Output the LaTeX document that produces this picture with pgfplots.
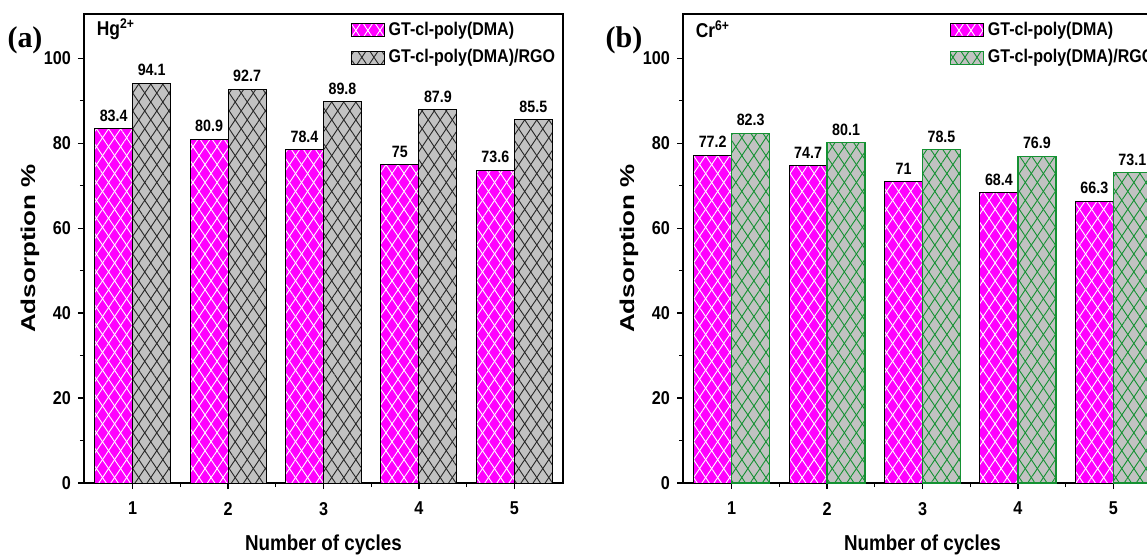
\documentclass[border=0pt]{standalone}
\usepackage{fontspec}
\setmainfont[FakeStretch=0.87]{Liberation Sans}
\newfontfamily\ylabfont[FakeStretch=1.3]{Liberation Sans}
\newfontfamily\serifb{Liberation Serif}
\usepackage{pgfplots}
\pgfplotsset{compat=1.18}
\usetikzlibrary{patterns.meta}

\definecolor{mag}{RGB}{255,0,255}
\definecolor{gry}{RGB}{194,194,194}
\definecolor{grn}{RGB}{20,145,50}

\tikzset{
  hatch/.style={
    postaction={pattern={Lines[angle=56,distance=5pt,line width=0.45pt]},pattern color=#1},
    postaction={pattern={Lines[angle=-56,distance=5pt,line width=0.45pt]},pattern color=#1}},
}
\pgfplotsset{
  barA/.style={fill=mag, draw=black, line width=0.5pt, hatch=white},
  barB/.style={fill=gry, draw=black, line width=0.5pt, hatch=black!85},
  barC/.style={fill=gry, draw=grn, line width=0.6pt, hatch=grn},
  limg/.style={legend image code/.code={\draw[##1] (0pt,-3.25pt) rectangle (16.5pt,3.25pt);}},
  myax/.style={
    scale only axis, width=239.5pt, height=234.5pt, anchor=south west,
    xmin=0.49, xmax=5.51, ymin=0, ymax=110.4,
    ybar=0pt, bar width=19pt,
    xtick={1,2,3,4,5}, ytick={0,20,40,60,80,100},
    minor x tick num=1, minor y tick num=1,
    tick pos=left, tick align=outside,
    major tick length=3pt, minor tick length=2pt,
    tick style={black, line width=0.6pt},
    axis line style={line width=0.75pt},
    every tick label/.append style={font=\fontsize{9.3}{10}\selectfont\bfseries},
    xticklabel style={yshift=-3pt},
    /pgf/number format/assume math mode=true,
    nodes near coords,
    every node near coord/.append style={font=\fontsize{8.2}{9}\selectfont\bfseries, text=black},
    xlabel={Number of cycles}, ylabel={\ylabfont Adsorption \%},
    xlabel style={at={(axis description cs:0.5,-0.132)}, anchor=center, font=\fontsize{10.8}{12}\selectfont\bfseries},
    ylabel style={at={(axis description cs:-0.1127,0.5)}, anchor=center, font=\fontsize{10}{11}\selectfont\bfseries},
    legend style={at={(axis description cs:0.556,0.992)}, anchor=north west, draw=none, fill=none,
      font=\fontsize{9.2}{10}\selectfont\bfseries, row sep=1.5pt, inner sep=0pt},
    legend cell align=left,
    clip=false,
  }
}

\begin{document}
\begin{tikzpicture}
\path[use as bounding box] (0,0) rectangle (573.5pt,279pt);
\clip (0,0) rectangle (573.5pt,279pt);

\node[font=\serifb\fontsize{15}{16}\selectfont\bfseries] at (12.5pt,259pt) {(a)};
\node[font=\serifb\fontsize{15}{16}\selectfont\bfseries] at (312pt,259pt) {(b)};

\begin{axis}[myax, at={(42pt,37.5pt)}]
\addplot[barA, limg] coordinates {(1,83.4) (2,80.9) (3,78.4) (4,75) (5,73.6)};
\addplot[barB, limg] coordinates {(1,94.1) (2,92.7) (3,89.8) (4,87.9) (5,85.5)};
\legend{GT-cl-poly(DMA), GT-cl-poly(DMA)/RGO}
\node[anchor=west, font=\fontsize{10}{11}\selectfont\bfseries] at (axis description cs:0.012,0.968) {Hg\textsuperscript{2+}};
\end{axis}

\begin{axis}[myax, at={(341.5pt,37.5pt)}]
\addplot[barA, limg] coordinates {(1,77.2) (2,74.7) (3,71) (4,68.4) (5,66.3)};
\addplot[barC, limg] coordinates {(1,82.3) (2,80.1) (3,78.5) (4,76.9) (5,73.1)};
\legend{GT-cl-poly(DMA), GT-cl-poly(DMA)/RGO}
\node[anchor=west, font=\fontsize{10}{11}\selectfont\bfseries] at (axis description cs:0.012,0.968) {Cr\textsuperscript{6+}};
\end{axis}
\end{tikzpicture}
\end{document}
